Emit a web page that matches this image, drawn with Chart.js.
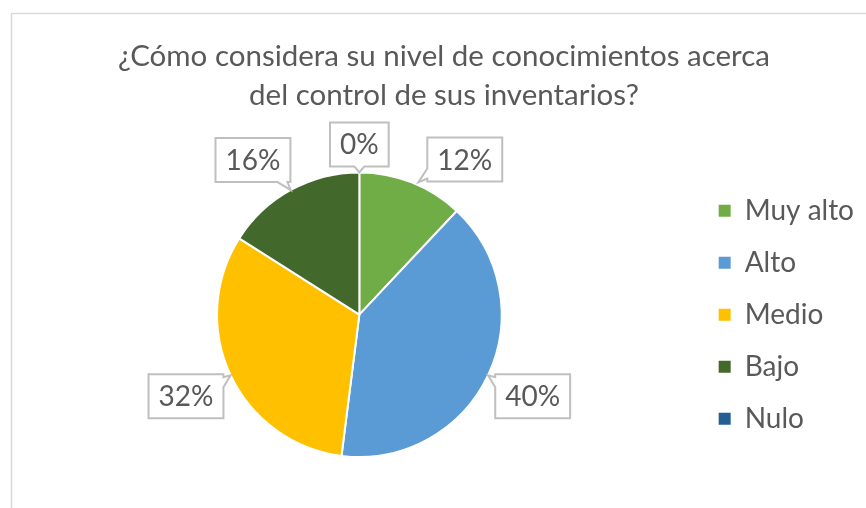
<!DOCTYPE html>
<html>
<head>
<meta charset="utf-8">
<script src="https://cdn.jsdelivr.net/npm/chart.js@4.4.1/dist/chart.umd.min.js"></script>
<style>
  html, body { margin: 0; padding: 0; background: #fff; }
</style>
</head>
<body>
<canvas id="grafico" width="866" height="508"></canvas>
<script>
// ===== datos =====
const categorias = ["Muy alto", "Alto", "Medio", "Bajo", "Nulo"];
const porcentajes = [12, 40, 32, 16, 0];
const colores = ["#70AD47", "#5B9BD5", "#FFC000", "#43682B", "#255E91"];
const titulo = ["¿Cómo considera su nivel de conocimientos acerca", "del control de sus inventarios?"];

const gris = "#595959";
const fuente = "Lato, 'Open Sans', sans-serif";

// ===== marco gris del gráfico =====
const marco = {
  id: "marco",
  beforeDraw(chart) {
    const ctx = chart.ctx;
    ctx.save();
    ctx.strokeStyle = "#d9d9d9";
    ctx.lineWidth = 1.5;
    ctx.strokeRect(11.5, 13.5, chart.width + 20, chart.height + 20);
    ctx.restore();
  }
};

// ===== etiquetas con llamada (callout) =====
function dibujarLlamada(ctx, L, T, R, B, P) {
  const dxOut = Math.max(L - P.x, 0, P.x - R);
  const dyOut = Math.max(T - P.y, 0, P.y - B);
  let lado;
  if (dyOut >= dxOut) lado = P.y > B ? "bottom" : "top";
  else lado = P.x > R ? "right" : "left";

  const clamp = (v, a, b) => Math.min(Math.max(v, a), b);
  const pts = [];
  const esquinas = { top: [[L, T], [R, T]], right: [[R, T], [R, B]], bottom: [[R, B], [L, B]], left: [[L, B], [L, T]] };
  ["top", "right", "bottom", "left"].forEach(s => {
    pts.push(esquinas[s][0]);
    if (s !== lado) return;
    if (s === "top" || s === "bottom") {
      const c = clamp(P.x, L + 8, R - 8);
      const y = s === "top" ? T : B;
      const ty = s === "top" ? y - Math.min(y - P.y, 9) : y + Math.min(P.y - y, 9);
      const a = s === "top" ? c - 5 : c + 5, b = s === "top" ? c + 5 : c - 5;
      pts.push([a, y], [P.x, ty], [b, y]);
    } else {
      const c = clamp(P.y, T + 8, B - 8);
      const x = s === "right" ? R : L;
      const tx = s === "right" ? x + Math.min(P.x - x, 9) : x - Math.min(x - P.x, 9);
      const a = s === "right" ? c - 5 : c + 5, b = s === "right" ? c + 5 : c - 5;
      pts.push([x, a], [tx, P.y], [x, b]);
    }
  });
  ctx.beginPath();
  pts.forEach((p, i) => i ? ctx.lineTo(p[0], p[1]) : ctx.moveTo(p[0], p[1]));
  ctx.closePath();
  ctx.fillStyle = "#ffffff";
  ctx.fill();
  ctx.strokeStyle = "#bfbfbf";
  ctx.lineWidth = 2;
  ctx.stroke();
}

const etiquetas = {
  id: "etiquetas",
  afterDatasetsDraw(chart) {
    const ctx = chart.ctx;
    const meta = chart.getDatasetMeta(0);
    ctx.save();
    ctx.font = "28px " + fuente;

    const items = meta.data.map((arc, i) => {
      const p = arc.getProps(["x", "y", "startAngle", "endAngle", "outerRadius"], true);
      const mid = (p.startAngle + p.endAngle) / 2;
      const texto = porcentajes[i] + "%";
      return {
        p, valor: porcentajes[i], texto, a: mid,
        w: ctx.measureText(texto).width + 20, h: 44,
        P: { x: p.x + Math.cos(mid) * p.outerRadius, y: p.y + Math.sin(mid) * p.outerRadius }
      };
    });

    // caja de la etiqueta según su ángulo
    const caja = it => {
      const cos = Math.cos(it.a), sin = Math.sin(it.a);
      const dist = it.p.outerRadius + 6 + (it.w / 2) * Math.abs(cos) + (it.h / 2) * Math.abs(sin);
      const cx = it.p.x + cos * dist, cy = it.p.y + sin * dist;
      return { cx, cy, L: cx - it.w / 2, R: cx + it.w / 2, T: cy - it.h / 2, B: cy + it.h / 2 };
    };

    // separar etiquetas que chocan: se desliza la de la porción más grande
    const hueco = 38;
    const choca = (A, B) => A.L < B.R + hueco && B.L < A.R + hueco && A.T < B.B + 6 && B.T < A.B + 6;
    for (let n = 0; n < 300; n++) {
      let movida = false;
      for (let i = 0; i < items.length; i++) {
        for (let j = i + 1; j < items.length; j++) {
          if (!choca(caja(items[i]), caja(items[j]))) continue;
          const m = items[i].valor > items[j].valor ? items[i] : items[j];
          const o = m === items[i] ? items[j] : items[i];
          let d = m.a - o.a;
          while (d > Math.PI) d -= 2 * Math.PI;
          while (d <= -Math.PI) d += 2 * Math.PI;
          m.a += d >= 0 ? 0.01 : -0.01;
          movida = true;
        }
      }
      if (!movida) break;
    }

    items.forEach(it => {
      const c = caja(it);
      dibujarLlamada(ctx, c.L, c.T, c.R, c.B, it.P);
      ctx.fillStyle = gris;
      ctx.textAlign = "center";
      ctx.textBaseline = "middle";
      ctx.fillText(it.texto, c.cx, c.cy + 1);
    });
    ctx.restore();
  }
};

// ===== gráfico =====
const ctx = document.getElementById("grafico").getContext("2d");
new Chart(ctx, {
  type: "pie",
  data: {
    labels: categorias,
    datasets: [{
      data: porcentajes,
      backgroundColor: colores,
      borderColor: "#ffffff",
      borderWidth: 2
    }]
  },
  options: {
    responsive: false,
    animation: false,
    devicePixelRatio: 1,
    layout: { padding: { top: 18, left: 24, right: 2, bottom: 50 } },
    plugins: {
      tooltip: { enabled: false },
      title: {
        display: true,
        text: titulo,
        color: gris,
        font: { size: 29.5, family: fuente, weight: "normal", lineHeight: 1.32 },
        padding: { top: 19.5, bottom: 56 }
      },
      legend: {
        position: "right",
        fullSize: false,
        labels: {
          boxWidth: 12,
          boxHeight: 12,
          padding: 24,
          color: gris,
          font: { size: 28, family: fuente },
          generateLabels: c => Chart.overrides.doughnut.plugins.legend.labels.generateLabels(c)
            .map(l => Object.assign(l, { lineWidth: 0 }))
        }
      }
    }
  },
  plugins: [marco, etiquetas]
});
</script>
</body>
</html>
